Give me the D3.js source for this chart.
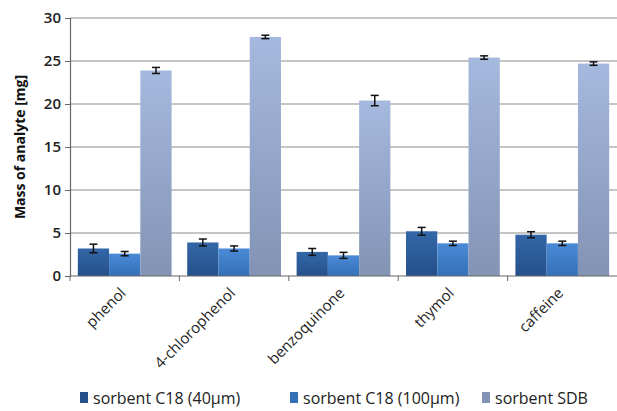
<!DOCTYPE html>
<html><head><meta charset="utf-8">
<script src="https://cdn.jsdelivr.net/npm/d3@7/dist/d3.min.js"></script>
<style>body{margin:0;background:#fff;} svg{display:block;}</style>
</head><body>
<svg id="chart" width="617" height="411"></svg>
<script>
const categories = ["phenol", "4-chlorophenol", "benzoquinone", "thymol", "caffeine"];
const seriesNames = ["sorbent C18 (40µm)", "sorbent C18 (100µm)", "sorbent SDB"];
const c18_40 = [3.2, 3.9, 2.8, 5.2, 4.8];
const c18_40Err = [0.5, 0.4, 0.4, 0.45, 0.35];
const c18_100 = [2.6, 3.2, 2.4, 3.8, 3.8];
const c18_100Err = [0.25, 0.3, 0.35, 0.25, 0.25];
const sdb = [23.9, 27.8, 20.4, 25.4, 24.7];
const sdbErr = [0.35, 0.2, 0.6, 0.2, 0.2];
const yTicks = [0, 5, 10, 15, 20, 25, 30];

const series = [
  {name: seriesNames[0], values: c18_40, err: c18_40Err},
  {name: seriesNames[1], values: c18_100, err: c18_100Err},
  {name: seriesNames[2], values: sdb, err: sdbErr}
];

const svg = d3.select("#chart");
const defs = svg.append("defs");
const grads = [["#3467a8", "#24508a"], ["#4a8ad6", "#3470b8"], ["#a5b9de", "#8393b4"]];
grads.forEach((g, i) => {
  const lg = defs.append("linearGradient").attr("id", "g" + i)
    .attr("x1", 0).attr("y1", 0).attr("x2", 0).attr("y2", 1);
  lg.append("stop").attr("offset", "0%").attr("stop-color", g[0]);
  lg.append("stop").attr("offset", "100%").attr("stop-color", g[1]);
});

const mLeft = 70, mRight = 617, mTop = 18, mBottom = 276;
const x = d3.scaleBand().domain(categories).range([mLeft, mRight]).paddingInner(0).paddingOuter(0);
const xs = d3.scaleBand().domain(d3.range(series.length)).range([0, x.bandwidth()]).paddingInner(0).paddingOuter(0.25);
const y = d3.scaleLinear().domain([0, 30]).range([mBottom, mTop]);

// gridlines
svg.append("g").selectAll("line").data(yTicks.slice(1)).join("line")
  .attr("x1", mLeft).attr("x2", mRight)
  .attr("y1", d => y(d)).attr("y2", d => y(d))
  .attr("stroke", "#8c8c8c").attr("stroke-width", 1.2);

// bars
const groups = svg.append("g").selectAll("g").data(series).join("g");
groups.each(function(s, si) {
  const g = d3.select(this);
  g.selectAll("rect").data(categories).join("rect")
    .attr("x", (c) => x(c) + xs(si))
    .attr("width", xs.bandwidth())
    .attr("y", (c, i) => y(s.values[i]))
    .attr("height", (c, i) => y(0) - y(s.values[i]))
    .attr("fill", "url(#g" + si + ")");
});
// error bars
groups.each(function(s, si) {
  const g = d3.select(this).append("g").attr("stroke", "#111").attr("stroke-width", 1.5);
  categories.forEach((c, i) => {
    const cx = x(c) + xs(si) + xs.bandwidth() / 2;
    const y1 = y(s.values[i] + s.err[i]), y2 = y(s.values[i] - s.err[i]);
    g.append("line").attr("x1", cx).attr("x2", cx).attr("y1", y1).attr("y2", y2);
    g.append("line").attr("x1", cx - 4).attr("x2", cx + 4).attr("y1", y1).attr("y2", y1);
    g.append("line").attr("x1", cx - 4).attr("x2", cx + 4).attr("y1", y2).attr("y2", y2);
  });
});

// y axis
const yAxis = svg.append("g").attr("transform", `translate(${mLeft},0)`)
  .call(d3.axisLeft(y).tickValues(yTicks).tickSize(5).tickPadding(4));
yAxis.select(".domain").attr("stroke", "#666").attr("stroke-width", 1.2);
yAxis.selectAll(".tick line").attr("stroke", "#666");
yAxis.selectAll("text").attr("font-family", "Open Sans, sans-serif").attr("font-size", 15)
  .attr("font-weight", 600).attr("fill", "#222");

// x axis
const xAxis = svg.append("g").attr("transform", `translate(0,${mBottom})`);
xAxis.append("line").attr("x1", mLeft).attr("x2", mRight).attr("stroke", "#666").attr("stroke-width", 1.2);
xAxis.selectAll("line.t").data(categories).join("line").attr("class", "t")
  .attr("x1", c => x(c)).attr("x2", c => x(c)).attr("y1", 0).attr("y2", 5).attr("stroke", "#666");
xAxis.selectAll("text").data(categories).join("text")
  .attr("transform", c => `translate(${x(c) + x.bandwidth() / 2 + 2},${18}) rotate(-45)`)
  .attr("text-anchor", "end")
  .attr("font-family", "Open Sans, sans-serif").attr("font-size", 15).attr("fill", "#222")
  .text(c => c);

// y label
svg.append("text")
  .attr("transform", `translate(25,147) rotate(-90)`)
  .attr("text-anchor", "middle")
  .attr("font-family", "Open Sans, sans-serif").attr("font-size", 14).attr("font-weight", "bold").attr("fill", "#111")
  .text("Mass of analyte  [mg]");

// legend
const legX = [80, 290, 482];
const leg = svg.append("g").selectAll("g").data(series).join("g")
  .attr("transform", (d, i) => `translate(${legX[i]},404)`);
leg.append("rect").attr("x", 0).attr("y", -12).attr("width", 8).attr("height", 11)
  .attr("fill", (d, i) => grads[i][1]);
leg.append("text").attr("x", 13).attr("y", 0)
  .attr("font-family", "Open Sans, sans-serif").attr("font-size", 16).attr("fill", "#222")
  .text(d => d.name);
</script>
</body></html>
